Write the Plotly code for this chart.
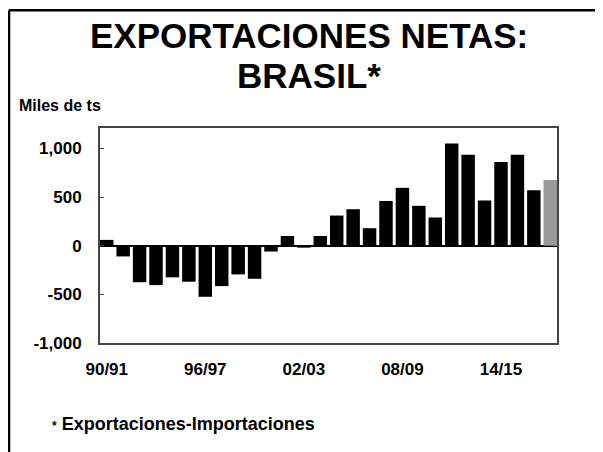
import plotly.graph_objects as go

seasons = ['90/91', '91/92', '92/93', '93/94', '94/95', '95/96', '96/97', '97/98',
           '98/99', '99/00', '00/01', '01/02', '02/03', '03/04', '04/05', '05/06',
           '06/07', '07/08', '08/09', '09/10', '10/11', '11/12', '12/13', '13/14',
           '14/15', '15/16', '16/17', '17/18']
net_exports = [60, -110, -375, -405, -325, -370, -525, -415, -295, -340, -60, 100,
               -20, 100, 310, 375, 180, 460, 595, 410, 290, 1050, 935, 465, 860,
               935, 570, 675]
tick_labels = ['90/91', '96/97', '02/03', '08/09', '14/15']
y_ticks = [-1000, -500, 0, 500, 1000]
y_tick_text = ['-1,000', '-500', '0', '500', '1,000']

colors = ['#000000'] * (len(seasons) - 1) + ['#999999']

FONT = 'Liberation Sans, Arial, sans-serif'

fig = go.Figure(go.Bar(x=seasons, y=net_exports, marker_color=colors,
                       marker_line_width=0))

# page body adds an 8px offset; plot area on screen spans 100..557 x 128..343.5
def px_x(p):
    return (p - 100) / 457

def px_y(p):
    return (343.5 - p) / 215.5

fig.update_layout(
    width=603, height=452,
    margin=dict(l=92, r=54, t=120, b=116.5),
    plot_bgcolor='white', paper_bgcolor='white',
    bargap=0.18, showlegend=False,
    font=dict(family=FONT, color='black', size=17, weight='bold'),
)

fig.update_xaxes(
    range=[-0.41, len(seasons) - 0.59],
    tickvals=tick_labels, ticktext=tick_labels,
    showline=True, linecolor='#444444', linewidth=2, mirror=True,
    ticks='', ticklabelstandoff=10,
    tickfont=dict(size=17, family=FONT, weight='bold'),
)
fig.update_yaxes(
    range=[-1000, 1210], tickvals=y_ticks, ticktext=y_tick_text,
    showline=True, linecolor='#444444', linewidth=2, mirror=True,
    ticks='inside', ticklen=4, tickcolor='#444444',
    showgrid=False, zeroline=True, zerolinecolor='black', zerolinewidth=1.5,
    ticklabelstandoff=13,
    tickfont=dict(size=17, family=FONT, weight='bold'),
)

# outer frame (top and left edges)
fig.add_shape(type='line', xref='paper', yref='paper',
              x0=px_x(9), y0=px_y(10), x1=px_x(620), y1=px_y(10),
              line=dict(color='black', width=2.5))
fig.add_shape(type='line', xref='paper', yref='paper',
              x0=px_x(9), y0=px_y(10), x1=px_x(9), y1=px_y(470),
              line=dict(color='black', width=2.5))

fig.add_annotation(text='EXPORTACIONES NETAS:', xref='paper', yref='paper',
                   x=px_x(309), y=px_y(35), xanchor='center', yanchor='middle',
                   showarrow=False, font=dict(size=35, family=FONT, weight='bold'))
fig.add_annotation(text='BRASIL*', xref='paper', yref='paper',
                   x=px_x(309), y=px_y(75), xanchor='center', yanchor='middle',
                   showarrow=False, font=dict(size=35, family=FONT, weight='bold'))
fig.add_annotation(text='Miles de ts', xref='paper', yref='paper',
                   x=px_x(17), y=px_y(105), xanchor='left', yanchor='middle',
                   showarrow=False, font=dict(size=16, family=FONT, weight='bold'))
fig.add_annotation(text="<span style='font-size:12px'>*</span> Exportaciones-Importaciones",
                   xref='paper', yref='paper',
                   x=px_x(50), y=px_y(425), xanchor='left', yanchor='middle',
                   showarrow=False, font=dict(size=18, family=FONT, weight='bold'))

fig.write_html("out.html")
